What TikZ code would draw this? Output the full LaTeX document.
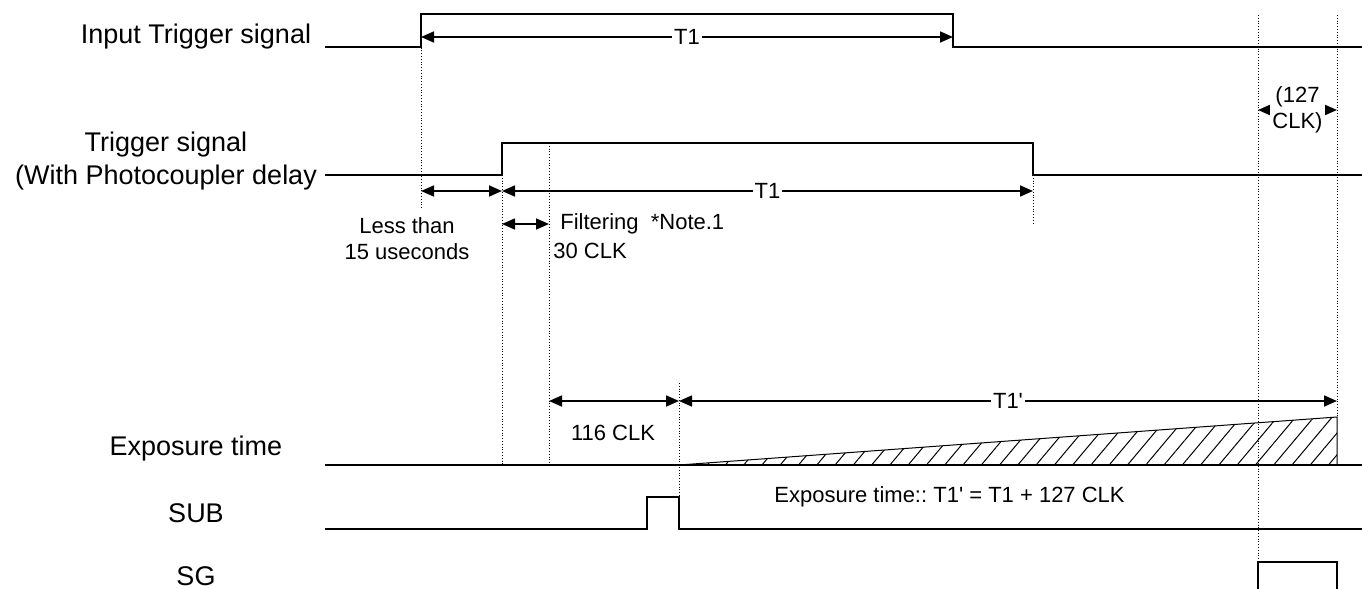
\documentclass[tikz,border=0pt]{standalone}
\usepackage{fontspec}
\setmainfont{Liberation Sans}
\usetikzlibrary{arrows.meta,patterns.meta}
\frenchspacing

\tikzset{
  sig/.style={line width=0.9pt},
  guide/.style={densely dotted, line width=0.4pt},
  span/.style={line width=0.8pt, {Triangle[length=6.5pt,width=5.5pt]}-{Triangle[length=6.5pt,width=5.5pt]}},
  lbl/.style={font=\fontsize{13.5}{16.5}\selectfont, align=center},
  note/.style={font=\fontsize{11}{13}\selectfont, inner sep=1pt},
}

\begin{document}
\begin{tikzpicture}[x=0.5pt,y=-0.5pt]
\useasboundingbox (0,0) rectangle (1362,589);

% signal names
\node[lbl] (nIn)  at (196,37)  {Input Trigger signal};
\node[lbl] (nTrg) at (166,161) {Trigger signal\\(With Photocoupler delay};
\node[lbl] (nExp) at (196,449) {Exposure time};
\node[lbl] (nSub) at (196,513) {SUB};
\node[lbl] (nSg)  at (196,576) {SG};

% waveforms
\draw[sig] (325,47) -- (421,47) -- (421,14) -- (953,14) -- (953,47) -- (1362,47);
\draw[sig] (325,175) -- (502,175) -- (502,143) -- (1033,143) -- (1033,175) -- (1362,175);
\draw[sig] (325,465) -- (1362,465);
\draw[line width=0.5pt, pattern={Lines[angle=50,distance=7pt,line width=0.5pt]}]
  (679,465) -- (1337,417) -- (1337,465) -- cycle;
\draw[sig] (325,529) -- (647,529) -- (647,497) -- (679,497) -- (679,529) -- (1362,529);
\draw[sig] (1258,589) -- (1258,562) -- (1337,562) -- (1337,589);

% guides
\draw[guide] (421,14) -- (421,208);
\draw[guide] (502,175) -- (502,465);
\draw[guide] (549,143) -- (549,465);
\draw[guide] (679,383) -- (679,497);
\draw[guide] (1033,175) -- (1033,225);
\draw[guide] (1258,15) -- (1258,562);
\draw[guide] (1337,15) -- (1337,417);

% spans
\coordinate (inUp)   at (421,37);
\coordinate (inDn)   at (953,37);
\coordinate (inLag)  at (421,191);
\coordinate (trUp)   at (502,191);
\coordinate (trDn)   at (1033,191);
\coordinate (fltA)   at (502,224);
\coordinate (fltB)   at (549,224);
\coordinate (clkA)   at (549,401);
\coordinate (expA)   at (679,401);
\coordinate (expB)   at (1337,401);
\coordinate (sgA)    at (1258,110);
\coordinate (sgB)    at (1337,110);

\draw[span] (inUp) -- node[note, fill=white] {T1} (inDn);
\draw[span] (inLag) -- (trUp);
\draw[span] (trUp) -- node[note, fill=white] {T1} (trDn);
\draw[span] (fltA) -- (fltB);
\draw[span] (clkA) -- (expA);
\draw[span] (expA) -- node[note, fill=white] {T1\textquotesingle} (expB);
\draw[span] (sgA) -- node[note, fill=white, align=center] {(127\\CLK)} (sgB);

% notes
\node[note, align=center] (lag) at (407,239) {Less than\\15 useconds};
\node[note, anchor=west] (flt) at (558,224) {Filtering\ \ *Note.1};
\node[note, anchor=west] (clk30) at (551,251) {30 CLK};
\node[note] (clk116) at (613,433) {116 CLK};
\node[note, anchor=west] (expf) at (772,497) {Exposure time:: T1\textquotesingle{} = T1 + 127 CLK};
\end{tikzpicture}
\end{document}
